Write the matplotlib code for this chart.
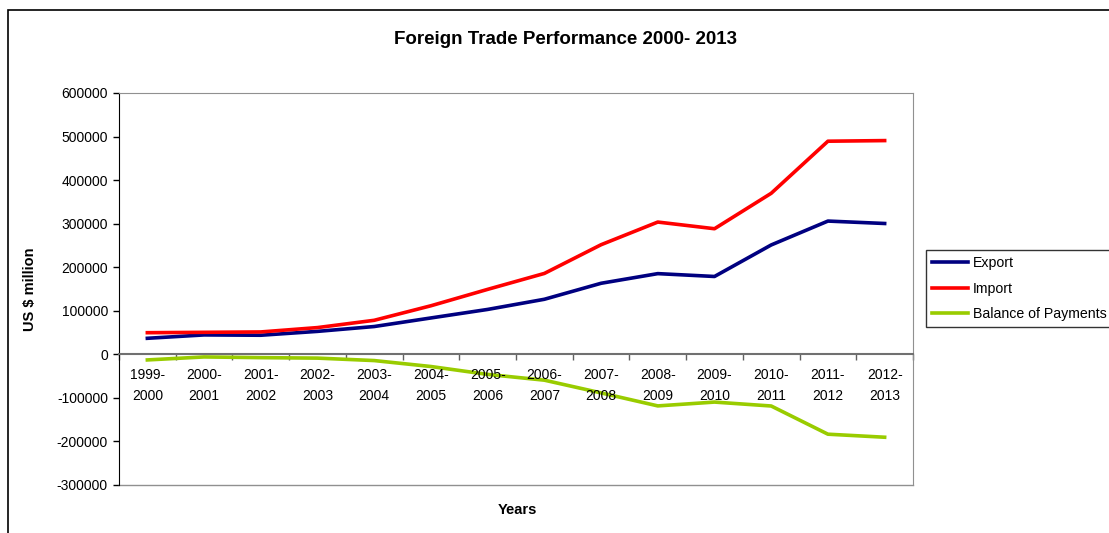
import matplotlib.pyplot as plt
from matplotlib.patches import Rectangle
from matplotlib.lines import Line2D

plt.rcParams['font.family'] = ['Liberation Sans', 'DejaVu Sans']
plt.rcParams['axes.unicode_minus'] = False

years = ['1999-\n2000', '2000-\n2001', '2001-\n2002', '2002-\n2003', '2003-\n2004',
         '2004-\n2005', '2005-\n2006', '2006-\n2007', '2007-\n2008', '2008-\n2009',
         '2009-\n2010', '2010-\n2011', '2011-\n2012', '2012-\n2013']
export = [36822, 44560, 43827, 52719, 63843, 83536, 103091, 126414,
          163132, 185295, 178751, 251136, 305964, 300401]
imports = [49671, 50536, 51413, 61412, 78149, 111517, 149166, 185735,
           251654, 303696, 288373, 369769, 489319, 490737]
balance = [-12849, -5976, -7586, -8693, -14306, -27981, -46075, -59321,
           -88522, -118401, -109622, -118633, -183356, -190336]

fig = plt.figure(figsize=(11.09, 5.33), dpi=100)
ax = fig.add_axes([119 / 1109, 1 - 485 / 533, (913 - 119) / 1109, (485 - 93) / 533])

x = range(len(years))
ax.plot(x, export, color='#000080', lw=2.6, label='Export')
ax.plot(x, imports, color='#FF0000', lw=2.6, label='Import')
ax.plot(x, balance, color='#99CC00', lw=2.6, label='Balance of Payments')

ax.set_xlim(-0.5, len(years) - 0.5)
ax.set_ylim(-300000, 600000)
ax.set_yticks(range(-300000, 600001, 100000))
ax.tick_params(axis='y', direction='out', length=4, width=1, pad=4, labelsize=10)

# category boundaries carry the tick marks; the two-line year labels sit between them
ax.set_xticks([i - 0.5 for i in range(len(years) + 1)])
ax.set_xticklabels([])
ax.tick_params(axis='x', which='major', direction='out', length=4, width=1, color='#606060')
for i, lab in zip(x, years):
    ax.text(i, 0.298, lab, transform=ax.get_xaxis_transform(), ha='center', va='top',
            fontsize=10, linespacing=1.65)

ax.spines['bottom'].set_position(('data', 0))
ax.spines['bottom'].set_color('#707070')
ax.spines['bottom'].set_linewidth(1.5)
ax.spines['left'].set_color('black')
ax.spines['top'].set_color('#909090')
ax.spines['right'].set_color('#909090')
ax.add_line(Line2D([0, 1], [0, 0], transform=ax.transAxes, color='#909090', lw=1, clip_on=False))

ax.set_ylabel('US $ million', fontsize=10.5, fontweight='bold', labelpad=14)
fig.text(517 / 1109, 1 - 510 / 533, 'Years', ha='center', va='center', fontsize=10.5, fontweight='bold')
fig.text(565 / 1109, 1 - 40 / 533, 'Foreign Trade Performance 2000- 2013', ha='center', va='center',
         fontsize=13.5, fontweight='bold')

leg = fig.legend(loc='upper left', bbox_to_anchor=(926 / 1109, 1 - 250 / 533), fontsize=10.2,
                 frameon=True, fancybox=False, edgecolor='black', handlelength=2.5,
                 handletextpad=0.35, borderpad=0.45, labelspacing=0.8, borderaxespad=0)
leg.get_frame().set_linewidth(1)

# outer chart border
fig.add_artist(Rectangle((8 / 1109, -0.1), 1.2, 1.1 - 10 / 533, transform=fig.transFigure,
                         fill=False, edgecolor='black', lw=1.2))

fig.savefig('out.png', dpi=100)
